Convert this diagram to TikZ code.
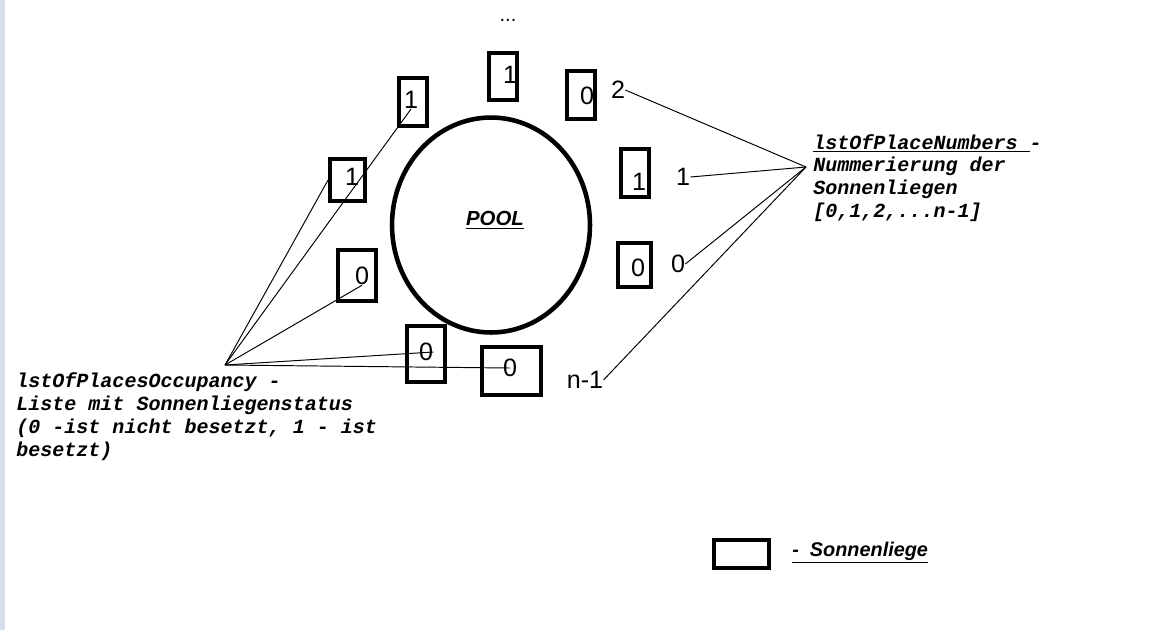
\documentclass[tikz,border=0pt]{standalone}
\usepackage{fontspec}
\setmainfont{Liberation Sans}
\setmonofont{Liberation Mono}
\usetikzlibrary{shapes.geometric}
\definecolor{rand}{RGB}{214,222,236}
\tikzset{% styles for pool, sunbeds, numbers and lines
    pool/.style={ellipse, draw=black, line width=2.6pt, inner sep=0pt,
      minimum width=3.96cm, minimum height=4.3cm},
    liege/.style 2 args={draw=black, line width=2.5pt, inner sep=0pt,
      minimum width=#1, minimum height=#2},
    zahl/.style={inner sep=0pt, font=\fontsize{14.3}{16}\selectfont},
    txt/.style={inner sep=0pt, align=left,
      font=\fontsize{11.4}{13.1}\selectfont\ttfamily\bfseries\itshape},
    e/.style={black, line width=0.55pt}}

\begin{document}
\begin{tikzpicture}[x=0.02cm, y=-0.02cm]
  \useasboundingbox (0,0) rectangle (1150,630);
  \fill[rand] (0,0) rectangle (5,630);

  \node[pool] (pool) at (491,225) {};
  \node[inner sep=0pt, font=\fontsize{11.6}{13}\selectfont\bfseries\itshape]
    (pt) at (495,220) {\underline{POOL}};
  \node[inner sep=0pt, font=\fontsize{11.4}{13}\selectfont] (dots) at (508,20) {...};

  % sunbeds
  \node[liege={0.55cm}{0.93cm}] (b1) at (503,76.5) {};
  \node[liege={0.55cm}{0.95cm}] (b2) at (581,95) {};
  \node[liege={0.55cm}{0.95cm}] (b3) at (413,102) {};
  \node[liege={0.69cm}{0.83cm}] (b4) at (347.5,180) {};
  \node[liege={0.55cm}{0.95cm}] (b5) at (635,173) {};
  \node[liege={0.75cm}{1.01cm}] (b6) at (357,275.5) {};
  \node[liege={0.65cm}{0.87cm}] (b7) at (634.5,265) {};
  \node[liege={0.75cm}{1.11cm}] (b8) at (426,354) {};
  \node[liege={1.17cm}{0.95cm}] (b9) at (511.5,371) {};

  % occupancy
  \node[zahl] (z1) at (510,75) {1};
  \node[zahl] (z2) at (587,96) {0};
  \node[zahl] (z3) at (411,100) {1};
  \node[zahl] (z4) at (352,177) {1};
  \node[zahl] (z5) at (639,182) {1};
  \node[zahl] (z6) at (362,276) {0};
  \node[zahl] (z7) at (638,268) {0};
  \node[zahl] (z8) at (426,352) {0};
  \node[zahl] (z9) at (510,368) {0};

  % place numbers
  \node[zahl] (n2) at (618,90) {2};
  \node[zahl] (n1) at (683,177) {1};
  \node[zahl] (n0) at (678,264) {0};
  \node[zahl] (nn) at (585,380) {n-1};

  \coordinate (links) at (225,365);
  \coordinate (rechts) at (806,167);

  \node[txt, anchor=north west] (occ) at (16,372) {lstOfPlacesOccupancy -\\
    Liste mit Sonnenliegenstatus\\
    (0 -ist nicht besetzt, 1 - ist\\
    besetzt)};
  \node[txt, anchor=north west, font=\fontsize{11.4}{12.9}\selectfont\ttfamily\bfseries\itshape]
    (num) at (813,134) {\underline{lstOfPlaceNumbers\ }-\\
    Nummerierung der\\
    Sonnenliegen\\
    {[0,1,2,...n-1]}};

  \draw[e] (links) -- (z3.south);
  \draw[e] (links) -- (b4.west);
  \draw[e] (links) -- (z6.south);
  \draw[e] (links) -- (z8.east);
  \draw[e] (links) -- (z9.center);

  \draw[e] (rechts) -- (n2.east);
  \draw[e] (rechts) -- (n1.east);
  \draw[e] (rechts) -- (n0.east);
  \draw[e] (rechts) -- (nn.east);

  % legend
  \node[liege={1.09cm}{0.55cm}] (leg) at (741.5,554) {};
  \node[inner sep=0pt, anchor=base west, font=\fontsize{11.3}{13}\selectfont\bfseries\itshape]
    (legt) at (792,556) {\underline{-\ \ Sonnenliege}};
\end{tikzpicture}
\end{document}
